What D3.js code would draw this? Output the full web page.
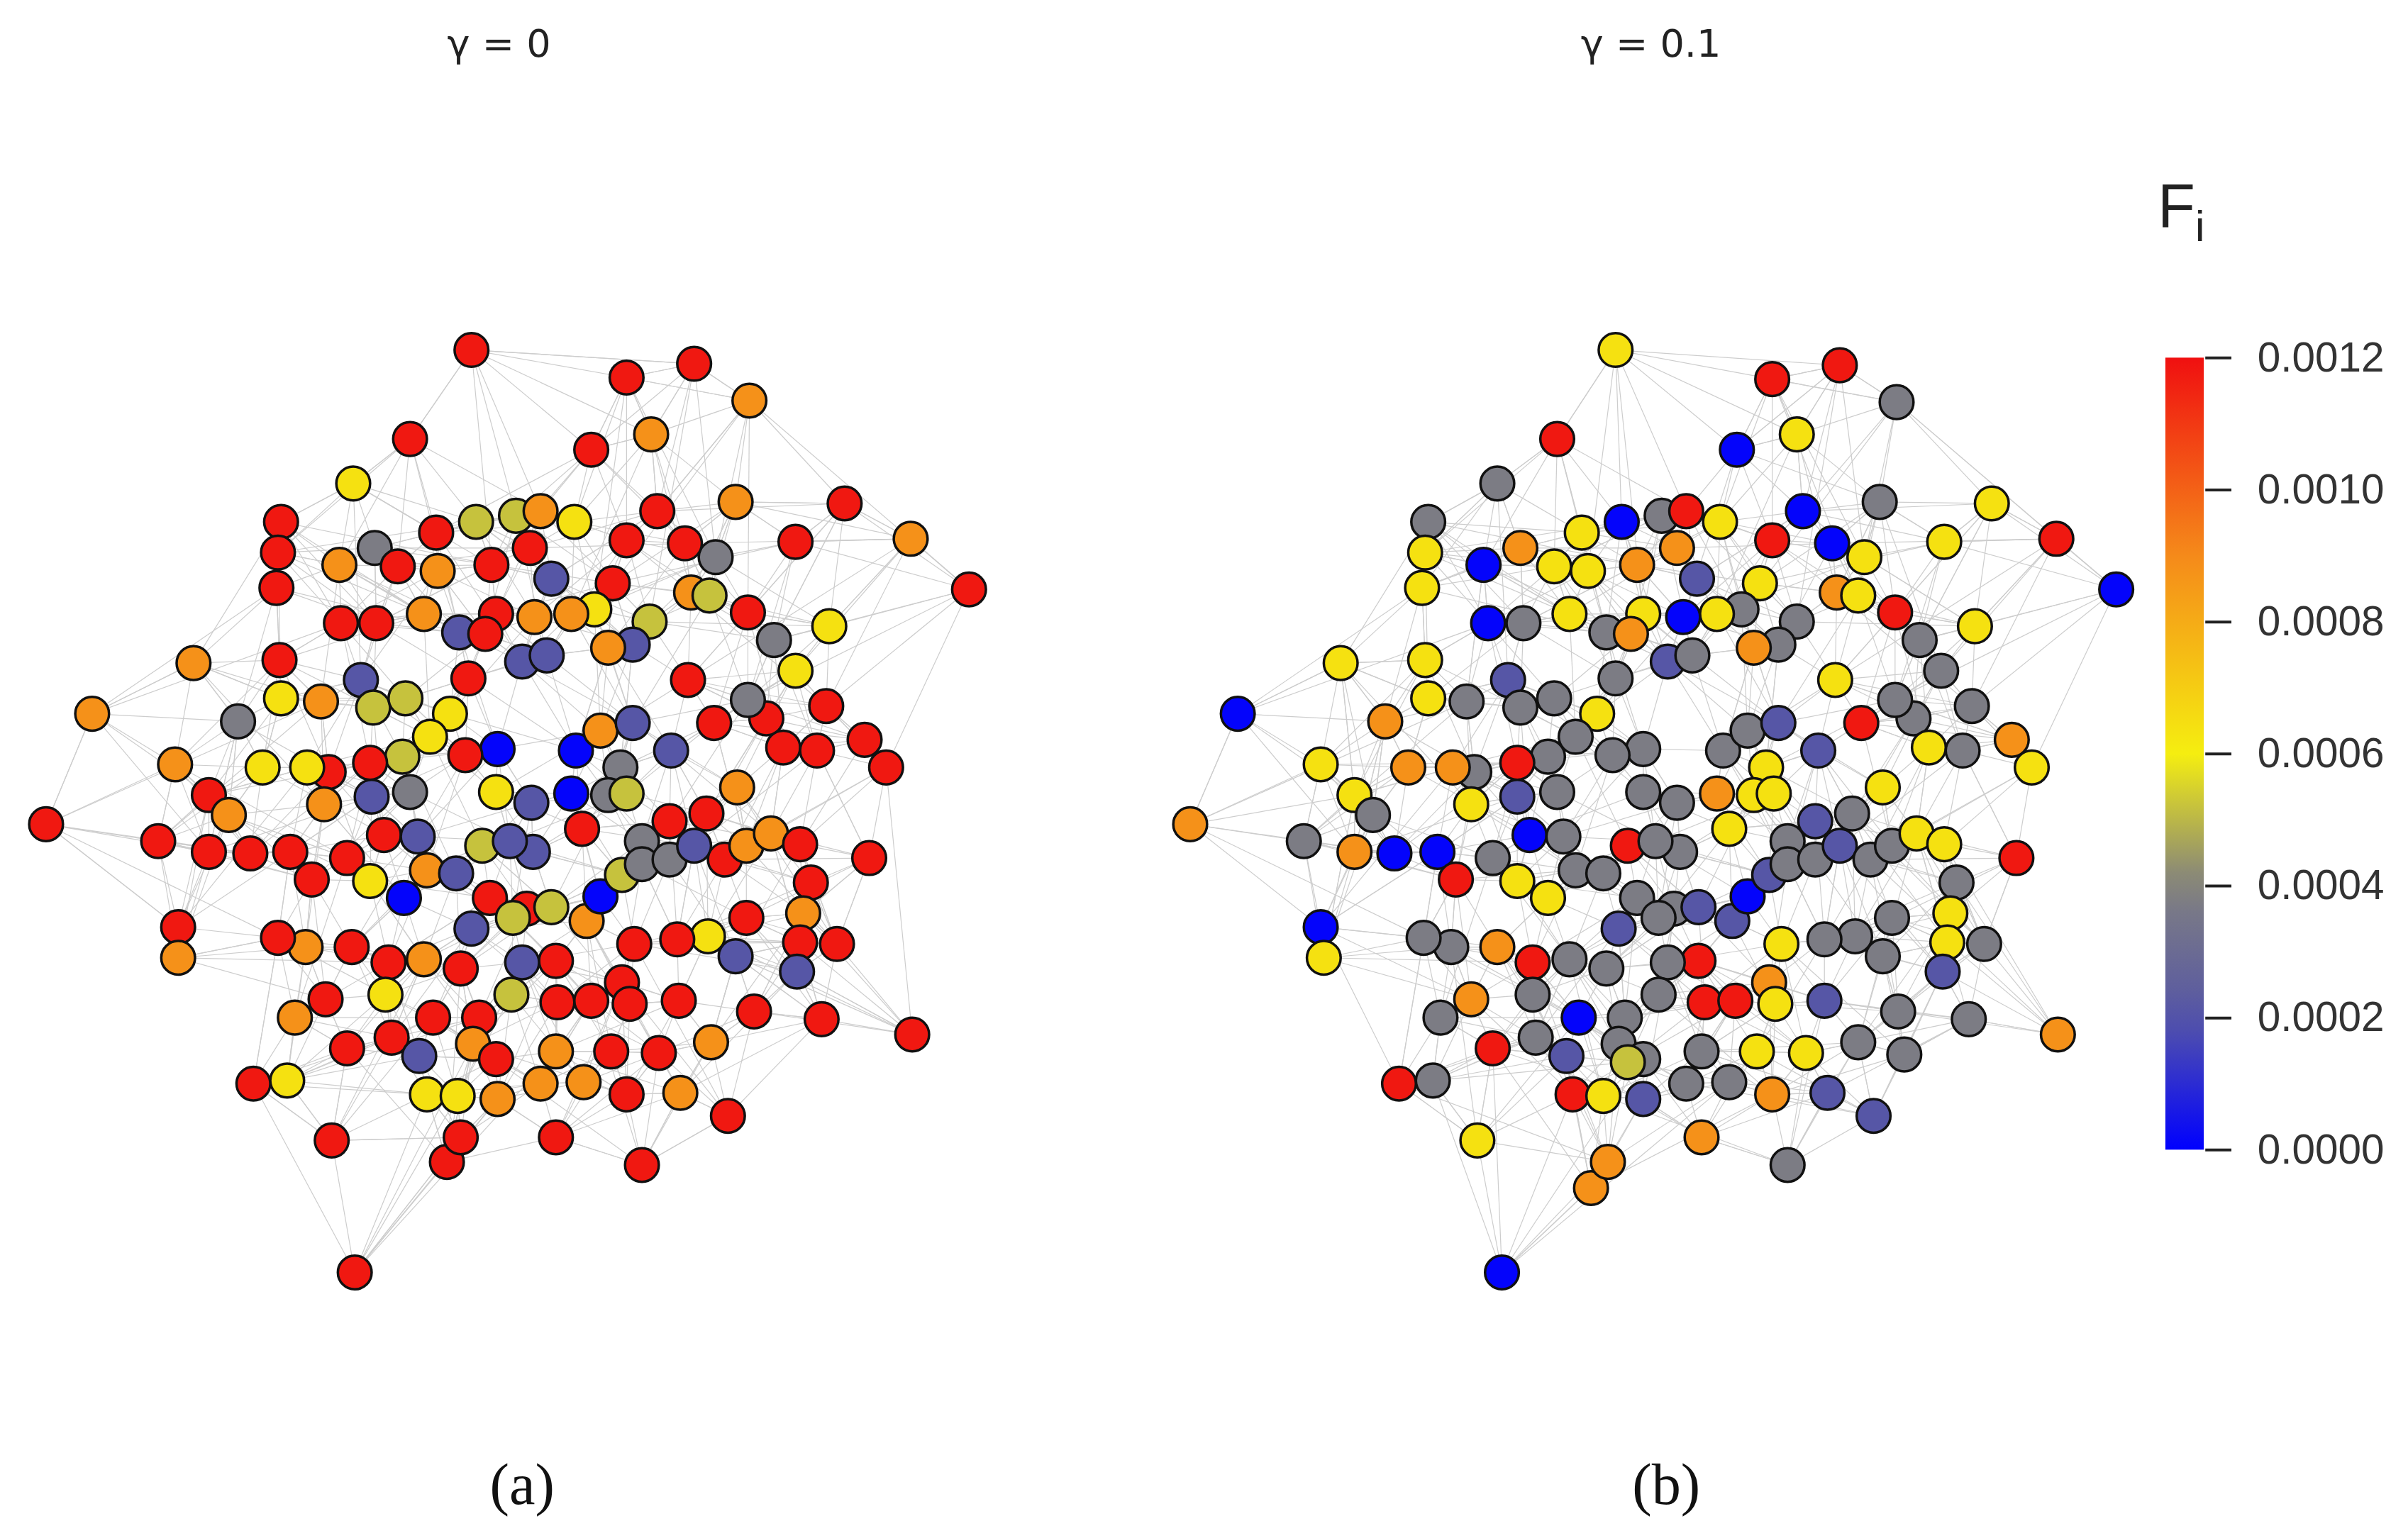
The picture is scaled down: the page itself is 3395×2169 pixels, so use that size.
<!DOCTYPE html>
<html><head><meta charset="utf-8">
<script src="https://cdn.jsdelivr.net/npm/d3@7"></script>
<style>body{margin:0;background:#fff}</style></head>
<body>
<script>
// value levels (F_i)
var levels = {U: 0.00001, B: 0.0002, G: 0.00038, K: 0.00052, Y: 0.00064, O: 0.00088, R: 0.00118};

// node positions in reference pixel units (x,y,level)
var nodesA = "307,228,R 408,246,R 452,237,R 488,261,O 267,286,R 385,293,R 424,283,O 230,315,Y 183,340,R 181,360,R 180,383,R 221,368,O 244,357,G 284,347,R 310,340,K 336,336,K 352,333,O 374,340,Y 428,333,R 479,327,O 550,328,R 593,351,O 631,384,R 518,353,R 466,363,G 446,354,R 408,352,R 345,357,R 320,368,R 285,372,O 259,369,R 359,377,B 399,380,R 450,386,O 462,388,K 487,399,R 540,408,Y 504,417,G 518,437,Y 423,405,K 412,420,B 396,422,O 387,397,Y 372,400,O 348,402,O 323,400,R 299,412,B 276,400,O 245,406,R 222,406,R 182,430,R 126,432,O 60,465,O 155,470,G 183,455,Y 209,457,O 235,443,B 243,461,K 264,455,K 293,465,Y 280,480,Y 262,493,K 241,497,R 214,503,R 171,500,Y 200,500,Y 114,498,O 136,518,R 149,531,O 211,524,O 242,519,B 267,516,G 316,413,R 340,431,B 356,427,B 305,442,R 324,488,U 303,492,R 375,489,U 391,476,O 412,471,B 437,489,B 404,500,G 396,518,G 408,517,K 372,517,U 323,516,Y 346,523,B 379,540,R 418,548,G 436,535,R 460,530,R 480,513,O 499,468,R 510,487,R 532,489,R 538,460,R 563,482,R 577,500,R 487,456,G 465,471,R 448,443,R 30,537,R 103,548,R 136,555,R 163,556,R 189,555,R 203,573,R 226,559,R 250,544,R 272,545,B 278,567,O 297,569,B 314,551,K 347,555,B 332,548,B 241,574,Y 263,585,U 307,605,B 319,585,R 343,592,R 334,598,K 359,591,K 382,600,O 391,584,U 405,570,K 418,563,G 436,560,G 452,551,B 472,560,R 486,551,O 502,543,O 521,550,R 566,559,R 528,575,R 523,595,O 521,614,R 519,633,B 545,615,R 486,598,R 461,610,Y 441,612,R 479,623,B 413,615,R 405,640,R 362,626,R 340,627,B 300,631,R 276,625,O 253,627,R 229,617,R 199,617,O 181,611,R 116,604,R 116,624,O 212,651,R 251,648,Y 282,663,R 312,663,R 333,648,K 363,653,R 385,652,R 410,654,R 442,652,R 491,659,R 535,664,R 594,674,R 192,663,O 226,683,R 255,676,R 273,688,B 308,680,O 323,690,R 362,685,O 380,705,O 398,685,R 429,686,R 463,679,O 165,706,R 187,704,Y 278,713,Y 298,714,Y 324,716,O 352,706,O 408,713,R 443,712,O 474,727,R 216,743,R 291,757,R 300,741,R 362,741,R 418,759,R 231,829,R"
  .split(" ").map(function(s){ var p = s.split(","); return [+p[0], +p[1], levels[p[2]]]; });

var nodesB = "1052,228,Y 1154,247,R 1198,238,R 1235,262,G 1014,286,R 1131,293,U 1170,283,Y 975,315,G 930,340,G 928,360,Y 926,383,Y 966,368,U 990,357,O 1030,347,Y 1056,340,U 1082,336,G 1098,333,R 1120,340,Y 1174,333,U 1224,327,G 1297,328,Y 1339,351,R 1378,384,U 1266,353,Y 1214,363,Y 1193,354,U 1154,352,R 1092,357,O 1066,368,O 1034,372,Y 1012,369,Y 1105,377,B 1146,380,Y 1196,386,O 1210,388,Y 1234,399,R 1286,408,Y 1250,417,G 1264,437,G 1170,405,G 1158,420,G 1142,422,O 1134,397,G 1118,400,Y 1096,402,U 1070,400,Y 1046,412,G 1022,400,Y 992,406,G 969,406,U 928,430,Y 873,432,Y 806,465,U 902,470,O 930,455,Y 955,457,G 982,443,B 990,461,G 1012,455,G 1040,465,Y 1026,480,G 1008,493,G 988,497,R 960,503,G 917,500,O 946,500,O 860,498,Y 882,518,Y 894,531,G 958,524,Y 988,519,B 1014,516,G 1062,413,O 1086,431,B 1102,427,G 1052,442,G 1070,488,G 1050,492,G 1122,489,G 1138,476,G 1158,471,B 1184,489,B 1150,500,Y 1142,518,Y 1155,517,Y 1118,517,O 1070,516,G 1092,523,G 1126,540,Y 1164,548,G 1182,535,B 1206,530,G 1226,513,Y 1246,468,G 1256,487,Y 1278,489,G 1284,460,G 1310,482,O 1323,500,Y 1234,456,G 1212,471,R 1195,443,Y 775,537,O 849,548,G 882,555,O 908,556,U 936,555,U 948,573,R 972,559,G 996,544,U 1018,545,G 1026,567,G 1044,569,G 1060,551,R 1094,555,G 1078,548,G 988,574,Y 1008,585,Y 1054,605,B 1066,585,G 1090,592,G 1080,598,G 1106,591,B 1128,600,B 1138,584,U 1152,570,B 1164,563,G 1182,560,G 1198,551,B 1218,560,G 1232,551,G 1248,543,Y 1266,550,Y 1313,559,R 1274,575,G 1270,595,Y 1268,614,Y 1265,633,B 1292,615,G 1232,598,G 1208,610,G 1188,612,G 1226,623,G 1160,615,Y 1152,640,O 1106,626,R 1086,627,G 1046,631,G 1022,625,G 998,627,R 975,617,O 945,617,G 927,611,G 860,604,U 862,624,Y 958,651,O 998,648,G 1028,663,U 1058,663,G 1080,648,G 1110,653,R 1130,652,R 1156,654,Y 1188,652,B 1236,659,G 1282,664,G 1340,674,O 938,663,G 972,683,R 1000,676,G 1020,688,B 1054,680,G 1070,690,G 1108,685,G 1126,705,G 1144,685,Y 1176,686,Y 1210,679,G 1240,687,G 911,706,R 933,704,G 1024,713,R 1044,714,Y 1070,716,B 1098,706,G 1154,713,O 1190,712,B 1220,727,B 962,743,Y 1036,774,O 1047,757,O 1108,741,O 1164,759,G 978,829,U 1060,692,K"
  .split(" ").map(function(s){ var p = s.split(","); return [+p[0], +p[1], levels[p[2]]]; });

var panelTitles = [["γ = 0", 325], ["γ = 0.1", 1075]];
var panelLabels = [["(a)", 340], ["(b)", 1085]];
var barTicks = [0, 0.0002, 0.0004, 0.0006, 0.0008, 0.0010, 0.0012];

var W = 3395, H = 2169;
var x = d3.scaleLinear().domain([0, 1568]).range([0, W]);
var y = d3.scaleLinear().domain([0, 1002]).range([0, H]);
var k = W / 1568;

var color = d3.scaleLinear()
  .domain([0, 0.0002, 0.0004, 0.0006, 0.0009, 0.0012])
  .range(["#0000ff", "#5656a6", "#808080", "#f5ee10", "#f58a1a", "#f01010"]);

var svg = d3.select("body").append("svg").attr("width", W).attr("height", H);

function drawNet(nodes) {
  // link each node to its nearest neighbours plus a few farther ones
  var links = [];
  nodes.forEach(function(a, i) {
    var d = nodes.map(function(b, j){ return [j, (a[0]-b[0])*(a[0]-b[0]) + (a[1]-b[1])*(a[1]-b[1])]; })
      .filter(function(e){ return e[0] !== i; })
      .sort(function(p, q){ return p[1] - q[1]; });
    [0, 1, 2, 3, 5, 8, 13, 21].forEach(function(n){ links.push([a, nodes[d[n][0]]]); });
  });
  var g = svg.append("g");
  g.selectAll("line").data(links).enter().append("line")
    .attr("x1", function(d){ return x(d[0][0]); }).attr("y1", function(d){ return y(d[0][1]); })
    .attr("x2", function(d){ return x(d[1][0]); }).attr("y2", function(d){ return y(d[1][1]); })
    .attr("stroke", "#cdcdcd").attr("stroke-width", 1.2);
  g.selectAll("circle").data(nodes).enter().append("circle")
    .attr("cx", function(d){ return x(d[0]); }).attr("cy", function(d){ return y(d[1]); })
    .attr("r", 11 * k)
    .attr("fill", function(d){ return color(d[2]); })
    .attr("stroke", "#111").attr("stroke-width", 3.5);
}
drawNet(nodesA);
drawNet(nodesB);

svg.selectAll(".title").data(panelTitles).enter().append("text")
  .attr("x", function(d){ return x(d[1]); }).attr("y", y(37))
  .attr("text-anchor", "middle").attr("font-family", "DejaVu Sans").attr("font-size", 25 * k)
  .attr("fill", "#222").text(function(d){ return d[0]; });

svg.selectAll(".lab").data(panelLabels).enter().append("text")
  .attr("x", function(d){ return x(d[1]); }).attr("y", y(980))
  .attr("text-anchor", "middle").attr("font-family", "Liberation Serif").attr("font-size", 38 * k)
  .attr("fill", "#111").text(function(d){ return d[0]; });

// colour bar
var bar = d3.scaleLinear().domain([0, 0.0012]).range([y(749), y(233)]);
var grad = svg.append("defs").append("linearGradient").attr("id", "cb")
  .attr("x1", 0).attr("y1", 1).attr("x2", 0).attr("y2", 0);
d3.range(0, 1.0001, 0.05).forEach(function(t){
  grad.append("stop").attr("offset", t).attr("stop-color", color(t * 0.0012));
});
svg.append("rect").attr("x", x(1410)).attr("y", bar(0.0012)).attr("width", x(1435) - x(1410))
  .attr("height", bar(0) - bar(0.0012)).attr("fill", "url(#cb)");
var ax = svg.append("g").attr("transform", "translate(" + x(1436) + ",0)")
  .call(d3.axisRight(bar).tickValues(barTicks).tickFormat(d3.format(".4f")).tickSize(17 * k).tickPadding(17 * k));
ax.select(".domain").remove();
ax.selectAll("line").attr("stroke", "#222").attr("stroke-width", 4);
ax.selectAll("text").attr("font-family", "Liberation Sans").attr("font-size", 27 * k).attr("fill", "#333");

var fi = svg.append("text").attr("x", x(1405)).attr("y", y(148))
  .attr("font-family", "Liberation Sans").attr("font-size", 40 * k).attr("fill", "#222");
fi.append("tspan").text("F");
fi.append("tspan").attr("font-size", 28 * k).attr("dy", 9 * k).text("i");
</script>
</body></html>
